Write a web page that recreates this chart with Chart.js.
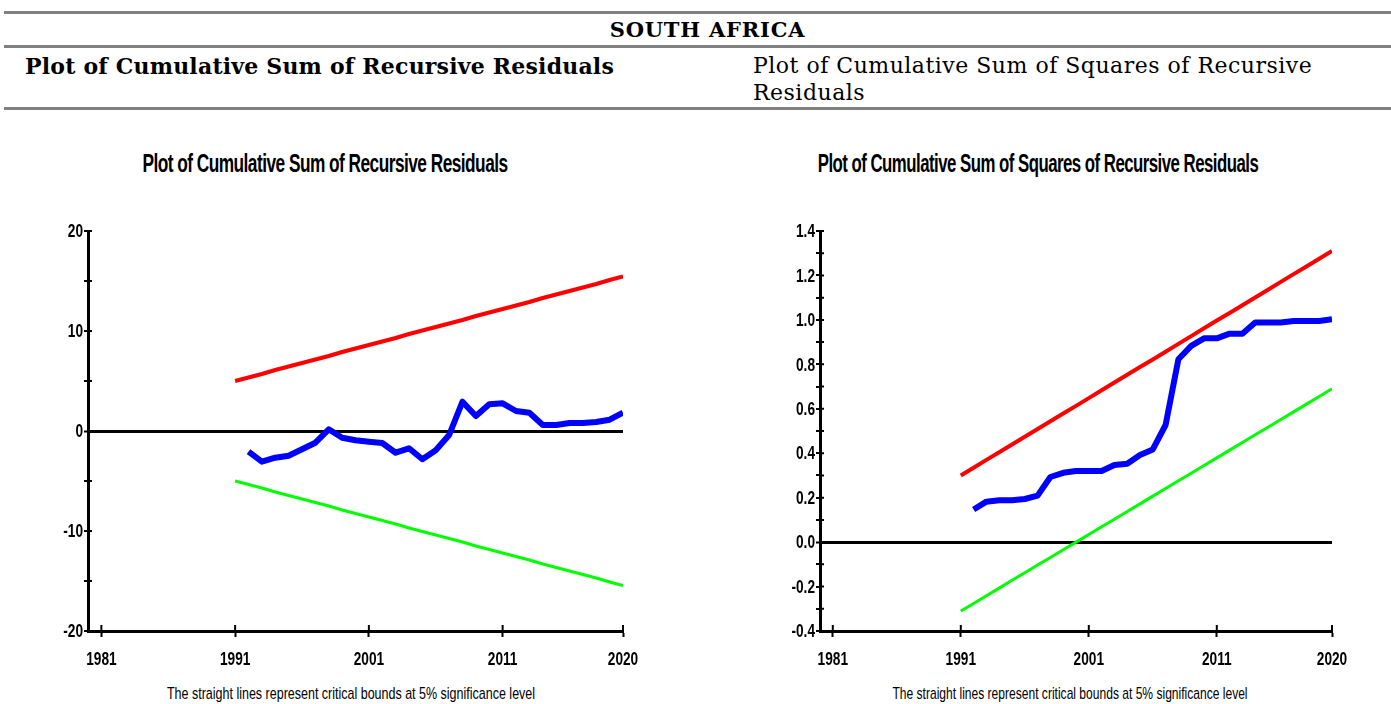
<!DOCTYPE html>
<html>
<head>
<meta charset="utf-8">
<script src="https://cdn.jsdelivr.net/npm/chart.js@4.4.0/dist/chart.umd.min.js"></script>
<style>
  body { margin: 0; background: #fff; width: 1391px; height: 704px; overflow: hidden; position: relative; }
  .rule { position: absolute; left: 4px; right: 0; height: 3px; background: #808080; }
  .serif { position: absolute; font-family: "DejaVu Serif", serif; color: #000; white-space: nowrap; }
  .narrow { position: absolute; font-family: "Liberation Sans", Arial, sans-serif; color: #000; white-space: nowrap; }
  canvas { position: absolute; }
</style>
</head>
<body>
<div class="rule" style="top:11px"></div>
<div class="serif" style="left:0;width:1415px;text-align:center;top:17px;font-size:21px;font-weight:bold;letter-spacing:0.8px;">SOUTH AFRICA</div>
<div class="rule" style="top:45px"></div>
<div class="serif" style="left:25px;top:53px;font-size:22px;font-weight:bold;letter-spacing:0.2px;">Plot of Cumulative Sum of Recursive Residuals</div>
<div class="serif" style="left:753px;top:52px;font-size:22px;line-height:27px;letter-spacing:0.5px;">Plot of Cumulative Sum of Squares of Recursive<br>Residuals</div>
<div class="rule" style="top:107px"></div>

<div class="narrow" style="left:325px;top:148px;font-size:26px;font-weight:bold;letter-spacing:-0.8px;transform:translateX(-50%) scaleX(0.665);">Plot of Cumulative Sum of Recursive Residuals</div>
<div class="narrow" style="left:1038px;top:148px;font-size:26px;font-weight:bold;letter-spacing:-0.8px;transform:translateX(-50%) scaleX(0.646);">Plot of Cumulative Sum of Squares of Recursive Residuals</div>

<canvas id="cusum" width="650" height="460" style="left:0;top:215px"></canvas>
<canvas id="cusumsq" width="660" height="460" style="left:700px;top:215px"></canvas>

<div class="narrow" style="left:351px;top:684px;font-size:17px;transform:translateX(-50%) scaleX(0.735);">The straight lines represent critical bounds at 5% significance level</div>
<div class="narrow" style="left:1070px;top:684px;font-size:17px;transform:translateX(-50%) scaleX(0.709);">The straight lines represent critical bounds at 5% significance level</div>

<script>
// years
const boundYears = [1991,1992,1993,1994,1995,1996,1997,1998,1999,2000,2001,2002,2003,2004,2005,2006,2007,2008,2009,2010,2011,2012,2013,2014,2015,2016,2017,2018,2019,2020];
const statYears = [1992,1993,1994,1995,1996,1997,1998,1999,2000,2001,2002,2003,2004,2005,2006,2007,2008,2009,2010,2011,2012,2013,2014,2015,2016,2017,2018,2019,2020];
const xTickYears = [1981, 1991, 2001, 2011, 2020];

// CUSUM
const cusum = [-2.07,-3.07,-2.67,-2.47,-1.83,-1.17,0.17,-0.67,-0.93,-1.07,-1.2,-2.17,-1.73,-2.83,-1.93,-0.4,2.93,1.5,2.67,2.77,2.0,1.83,0.6,0.6,0.8,0.8,0.9,1.13,1.83];
const cusumUpper = [5.0,5.35,5.7,6.1,6.45,6.8,7.15,7.5,7.9,8.25,8.6,8.95,9.3,9.7,10.05,10.4,10.75,11.1,11.5,11.85,12.2,12.55,12.9,13.3,13.65,14.0,14.35,14.7,15.1,15.45];
const cusumLower = [-5.0,-5.35,-5.7,-6.1,-6.45,-6.8,-7.15,-7.5,-7.9,-8.25,-8.6,-8.95,-9.3,-9.7,-10.05,-10.4,-10.75,-11.1,-11.5,-11.85,-12.2,-12.55,-12.9,-13.3,-13.65,-14.0,-14.35,-14.7,-15.1,-15.45];

// CUSUM of squares
const cusumSq = [0.147,0.182,0.188,0.188,0.194,0.209,0.293,0.312,0.32,0.32,0.32,0.347,0.353,0.392,0.417,0.527,0.823,0.883,0.917,0.917,0.938,0.938,0.988,0.988,0.988,0.995,0.995,0.995,1.003];
const cusumSqUpper = [0.30,0.335,0.37,0.404,0.439,0.474,0.509,0.544,0.579,0.613,0.648,0.683,0.718,0.753,0.788,0.822,0.857,0.892,0.927,0.962,0.997,1.031,1.066,1.101,1.136,1.171,1.206,1.24,1.275,1.31];
const cusumSqLower = [-0.31,-0.276,-0.241,-0.207,-0.172,-0.138,-0.103,-0.069,-0.034,0.0,0.034,0.069,0.103,0.138,0.172,0.207,0.241,0.276,0.31,0.345,0.379,0.414,0.448,0.483,0.517,0.552,0.586,0.621,0.655,0.69];

const pts = (xs, ys) => xs.map((x, i) => ({ x, y: ys[i] }));

// axis decorations: ticks crossing the axis line, and narrow bold tick labels
function axisDecor(yLabel) {
  return {
    id: 'axisDecor',
    afterDraw(chart) {
      const { ctx, chartArea, scales: { x, y } } = chart;
      ctx.save();
      ctx.strokeStyle = '#000';
      ctx.lineWidth = 2;
      ctx.beginPath();
      y.ticks.forEach(t => {
        const py = y.getPixelForValue(t.value);
        ctx.moveTo(chartArea.left, py);
        ctx.lineTo(chartArea.left + 4, py);
      });
      x.ticks.forEach(t => {
        const px = x.getPixelForValue(t.value);
        ctx.moveTo(px, chartArea.bottom);
        ctx.lineTo(px, chartArea.bottom - 6);
      });
      ctx.stroke();

      ctx.fillStyle = '#000';
      ctx.font = 'bold 19px "Liberation Sans", Arial, sans-serif';
      ctx.textBaseline = 'middle';
      ctx.textAlign = 'right';
      y.ticks.forEach(t => {
        const s = yLabel(t.value);
        if (!s) return;
        ctx.save();
        ctx.translate(chartArea.left - 5, y.getPixelForValue(t.value) + 1);
        ctx.scale(0.72, 1);
        ctx.fillText(s, 0, 0);
        ctx.restore();
      });
      ctx.textAlign = 'center';
      x.ticks.forEach(t => {
        ctx.save();
        ctx.translate(x.getPixelForValue(t.value), chartArea.bottom + 29);
        ctx.scale(0.72, 1);
        ctx.fillText(String(t.value), 0, 0);
        ctx.restore();
      });
      ctx.restore();
    }
  };
}

function makeChart(id, cfg) {
  return new Chart(document.getElementById(id), {
    type: 'line',
    data: {
      datasets: [
        { data: pts(boundYears, cfg.upper), borderColor: '#ff0000', borderWidth: 4 },
        { data: pts(boundYears, cfg.lower), borderColor: '#00ff00', borderWidth: 3 },
        { data: pts(statYears, cfg.stat), borderColor: '#0000ff', borderWidth: 6 }
      ]
    },
    options: {
      responsive: false,
      animation: false,
      layout: { padding: { top: 16, right: cfg.padRight, left: 0, bottom: 0 } },
      elements: { point: { radius: 0 }, line: { tension: 0, borderJoinStyle: 'round' } },
      plugins: { legend: { display: false }, tooltip: { enabled: false } },
      scales: {
        x: {
          type: 'linear',
          min: 1980,
          max: 2020,
          afterBuildTicks: s => { s.ticks = xTickYears.map(v => ({ value: v })); },
          afterFit: s => { s.height = 44; },
          ticks: { display: false },
          grid: { drawOnChartArea: false, drawTicks: true, tickLength: 6, tickColor: '#000', tickWidth: 2 },
          border: { display: true, color: '#000', width: 3 }
        },
        y: {
          min: cfg.min,
          max: cfg.max,
          afterFit: s => { s.width = cfg.axisLeft; },
          ticks: { stepSize: cfg.step, display: false },
          grid: {
            drawOnChartArea: true,
            drawTicks: true,
            tickLength: 4,
            tickColor: '#000',
            tickWidth: 2,
            color: c => (Math.abs(c.tick.value) < 1e-9 ? '#000' : 'rgba(0,0,0,0)'),
            lineWidth: c => (Math.abs(c.tick.value) < 1e-9 ? 3 : 0)
          },
          border: { display: true, color: '#000', width: 3 }
        }
      }
    },
    plugins: [axisDecor(cfg.label)]
  });
}

makeChart('cusum', {
  upper: cusumUpper, lower: cusumLower, stat: cusum,
  min: -20, max: 20, step: 5, axisLeft: 88, padRight: 27,
  label: v => (Math.round(v) % 10 === 0 ? String(Math.round(v)) : '')
});

makeChart('cusumsq', {
  upper: cusumSqUpper, lower: cusumSqLower, stat: cusumSq,
  min: -0.4, max: 1.4, step: 0.1, axisLeft: 120, padRight: 28,
  label: v => {
    if (Math.abs(v) < 1e-9) return '0.0';
    return Math.abs(Math.round(v * 10)) % 2 === 0 ? v.toFixed(1) : '';
  }
});
</script>
</body>
</html>
